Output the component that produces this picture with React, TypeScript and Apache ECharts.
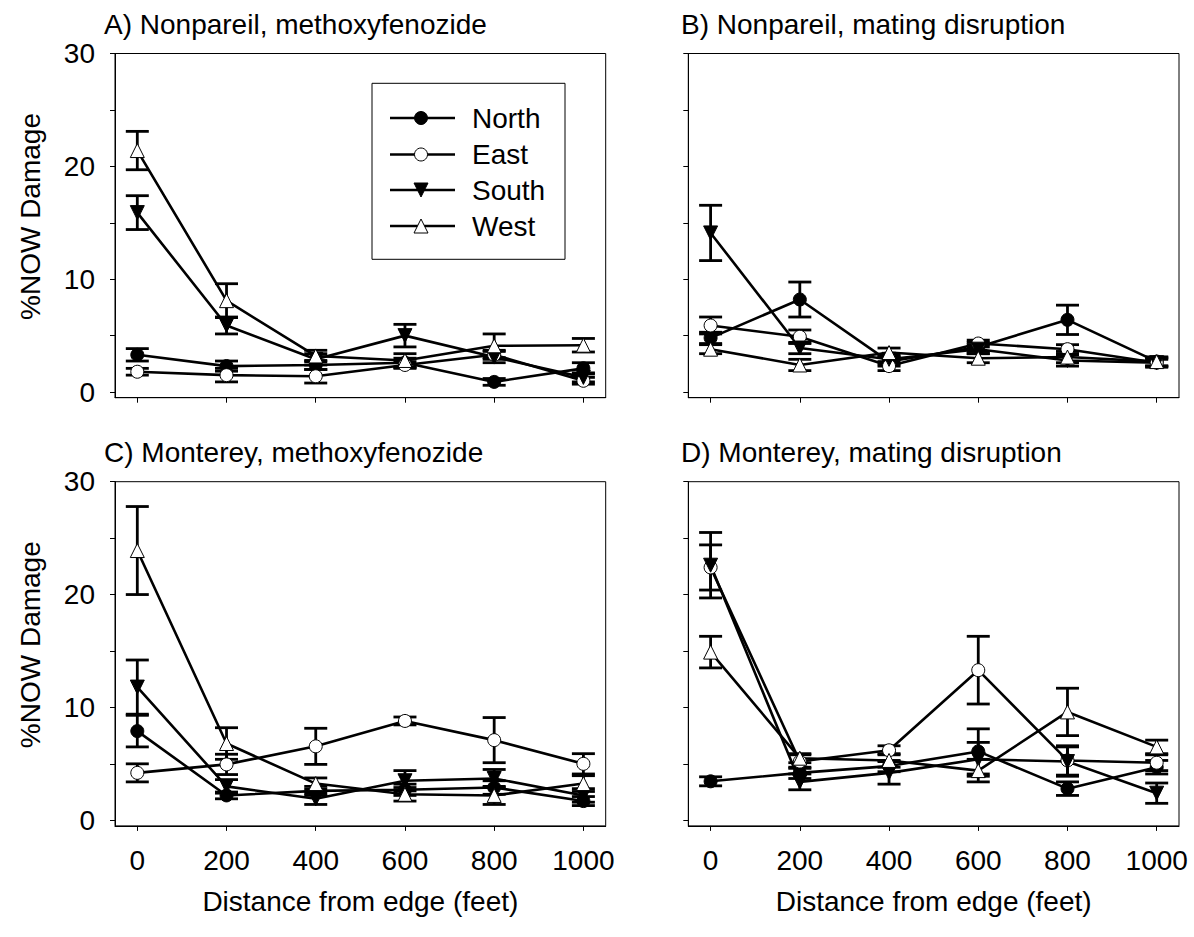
import React, { useEffect, useRef } from "react";
import * as echarts from "echarts";

const FONT = '"Liberation Sans", Arial, Helvetica, sans-serif';

// ---- data ----
const distances = [0, 200, 400, 600, 800, 1000];
const yLabelValues = [0, 10, 20, 30];
const yTickValues = [0, 5, 10, 15, 20, 25, 30];
const directions = ["North", "East", "South", "West"];
const panelTitles = [
  "A) Nonpareil, methoxyfenozide",
  "B) Nonpareil, mating disruption",
  "C) Monterey, methoxyfenozide",
  "D) Monterey, mating disruption",
];
const yAxisTitle = "%NOW Damage";
const xAxisTitle = "Distance from edge (feet)";

// Panel A
const aNorth = [3.3, 2.3, 2.4, 2.6, 0.9, 2.1];
const aNorthSE = [0.55, 0.45, 0.4, 0.4, 0.3, 0.5];
const aEast = [1.8, 1.5, 1.4, 2.4, 3.3, 1.0];
const aEastSE = [0.3, 0.6, 0.6, 0.3, 0.4, 0.3];
const aSouth = [15.9, 5.9, 2.9, 5.0, 3.1, 1.3];
const aSouthSE = [1.5, 0.75, 0.5, 1.0, 0.5, 0.4];
const aWest = [21.4, 8.1, 3.2, 2.8, 4.1, 4.15];
const aWestSE = [1.7, 1.5, 0.5, 0.6, 1.05, 0.6];

// Panel B
const bNorth = [4.8, 8.2, 2.7, 4.0, 6.4, 2.7];
const bNorthSE = [0.5, 1.55, 0.4, 0.4, 1.3, 0.4];
const bEast = [5.9, 4.9, 2.3, 4.3, 3.8, 2.6];
const bEastSE = [0.75, 0.6, 0.4, 0.3, 0.4, 0.3];
const bSouth = [14.1, 3.9, 2.9, 3.8, 2.8, 2.6];
const bSouthSE = [2.45, 0.5, 0.4, 0.4, 0.5, 0.4];
const bWest = [3.8, 2.4, 3.5, 3.0, 3.1, 2.7];
const bWestSE = [0.4, 0.5, 0.4, 0.4, 0.5, 0.4];

// Panel C
const cNorth = [7.9, 2.2, 2.6, 2.7, 2.9, 1.7];
const cNorthSE = [1.4, 0.3, 0.4, 0.5, 0.6, 0.4];
const cEast = [4.2, 4.95, 6.55, 8.8, 7.1, 5.0];
const cEastSE = [0.8, 0.9, 1.6, 0.35, 2.0, 0.9];
const cSouth = [11.8, 3.0, 1.9, 3.5, 3.7, 2.2];
const cSouthSE = [2.4, 0.6, 0.5, 0.9, 0.8, 0.6];
const cWest = [23.9, 6.8, 3.25, 2.3, 2.2, 3.25];
const cWestSE = [3.9, 1.4, 0.5, 0.6, 0.8, 0.7];

// Panel D
const dNorth = [3.45, 4.2, 4.8, 6.1, 2.8, 4.7];
const dNorthSE = [0.4, 0.5, 0.5, 2.0, 0.6, 0.6];
const dEast = [22.4, 5.2, 6.2, 13.3, 5.3, 5.1];
const dEastSE = [2.0, 0.6, 0.4, 3.0, 1.3, 0.7];
const dSouth = [22.6, 3.4, 4.2, 5.4, 5.2, 2.4];
const dSouthSE = [2.9, 0.7, 1.0, 1.5, 1.3, 0.9];
const dWest = [14.9, 5.5, 5.3, 4.4, 9.6, 6.5];
const dWestSE = [1.4, 0.4, 0.6, 1.0, 2.1, 0.6];

const panelMeans = [
  [aNorth, aEast, aSouth, aWest],
  [bNorth, bEast, bSouth, bWest],
  [cNorth, cEast, cSouth, cWest],
  [dNorth, dEast, dSouth, dWest],
];
const panelSEs = [
  [aNorthSE, aEastSE, aSouthSE, aWestSE],
  [bNorthSE, bEastSE, bSouthSE, bWestSE],
  [cNorthSE, cEastSE, cSouthSE, cWestSE],
  [dNorthSE, dEastSE, dSouthSE, dWestSE],
];

// ---- styles / layout ----
const GRID_W = 490.7;
const GRID_H = 344.2;
const gridPos = [
  { left: 115, top: 53.5 },
  { left: 688.3, top: 53.5 },
  { left: 115, top: 481.7 },
  { left: 688.3, top: 481.7 },
];
const markerStyles = [
  { symbol: "circle", fill: "#000", rotate: 0, size: 13 },
  { symbol: "circle", fill: "#fff", rotate: 0, size: 13 },
  { symbol: "triangle", fill: "#000", rotate: 180, size: 14 },
  { symbol: "triangle", fill: "#fff", rotate: 0, size: 14 },
];

function errorRender(params: any, api: any) {
  const x = api.value(0);
  const lo = api.coord([x, api.value(1)]);
  const hi = api.coord([x, api.value(2)]);
  const hw = 11.5;
  const st = { stroke: "#000", lineWidth: 2.8 };
  return {
    type: "group",
    children: [
      { type: "line", shape: { x1: lo[0], y1: lo[1], x2: hi[0], y2: hi[1] }, style: st },
      { type: "line", shape: { x1: hi[0] - hw, y1: hi[1], x2: hi[0] + hw, y2: hi[1] }, style: st },
      { type: "line", shape: { x1: lo[0] - hw, y1: lo[1], x2: lo[0] + hw, y2: lo[1] }, style: st },
    ],
  };
}

function buildOption() {
  const grids = gridPos.map((g) => ({
    left: g.left,
    top: g.top,
    width: GRID_W,
    height: GRID_H,
    show: true,
    borderColor: "#000",
    borderWidth: 1,
    backgroundColor: "transparent",
  }));

  const xAxes = gridPos.map((_, i) => ({
    type: "value",
    gridIndex: i,
    min: -50,
    max: 1050,
    splitLine: { show: false },
    axisLine: { show: true, onZero: false, lineStyle: { color: "#000", width: 1 } },
    axisTick: { show: true, inside: false, length: 5, customValues: distances, lineStyle: { color: "#000", width: 1 } },
    axisLabel: {
      show: i >= 2,
      customValues: distances,
      formatter: (v: number) => String(v),
      fontSize: 28,
      fontFamily: FONT,
      color: "#000",
      margin: 21,
    },
    name: i >= 2 ? xAxisTitle : "",
    nameLocation: "middle",
    nameGap: 62,
    nameTextStyle: { fontSize: 28, fontFamily: FONT, color: "#000" },
  }));

  const yAxes = gridPos.map((_, i) => ({
    type: "value",
    gridIndex: i,
    min: -0.5,
    max: 30,
    splitLine: { show: false },
    axisLine: { show: true, onZero: false, lineStyle: { color: "#000", width: 1 } },
    axisTick: { show: true, inside: false, length: 5, customValues: yTickValues, lineStyle: { color: "#000", width: 1 } },
    axisLabel: {
      show: i % 2 === 0,
      customValues: yLabelValues,
      formatter: (v: number) => String(v),
      fontSize: 28,
      fontFamily: FONT,
      color: "#000",
      margin: 20,
    },
  }));

  const series: any[] = [];
  panelMeans.forEach((means, p) => {
    means.forEach((vals, d) => {
      const ses = panelSEs[p][d];
      series.push({
        type: "custom",
        name: directions[d] + " SE",
        xAxisIndex: p,
        yAxisIndex: p,
        renderItem: errorRender,
        encode: { x: 0, y: [1, 2] },
        data: distances.map((x, k) => [x, vals[k] - ses[k], vals[k] + ses[k]]),
        z: 2,
        silent: true,
      });
    });
    means.forEach((vals, d) => {
      const m = markerStyles[d];
      series.push({
        type: "line",
        name: directions[d],
        xAxisIndex: p,
        yAxisIndex: p,
        data: distances.map((x, k) => [x, vals[k]]),
        symbol: m.symbol,
        symbolSize: m.size,
        symbolRotate: m.rotate,
        showAllSymbol: true,
        lineStyle: { color: "#000", width: 2.6 },
        itemStyle: { color: m.fill, borderColor: "#000", borderWidth: 1 },
        z: 3,
        silent: true,
      });
    });
  });

  // legend (drawn as graphic inside panel A)
  const legX = 372;
  const legY = 83.3;
  const legW = 193;
  const legH = 176;
  const rowY = [118, 154.5, 190, 226];
  const lx1 = 390;
  const lx2 = 455;
  const mx = 421;
  const legendChildren: any[] = [
    { type: "rect", shape: { x: legX, y: legY, width: legW, height: legH }, style: { fill: "#fff", stroke: "#000", lineWidth: 1 } },
  ];
  directions.forEach((name, d) => {
    const y = rowY[d];
    legendChildren.push({ type: "line", shape: { x1: lx1, y1: y, x2: lx2, y2: y }, style: { stroke: "#000", lineWidth: 2.6 } });
    const m = markerStyles[d];
    if (m.symbol === "circle") {
      legendChildren.push({ type: "circle", shape: { cx: mx, cy: y, r: 6.5 }, style: { fill: m.fill, stroke: "#000", lineWidth: 1 } });
    } else if (m.rotate === 180) {
      legendChildren.push({ type: "polygon", shape: { points: [[mx - 7, y - 7], [mx + 7, y - 7], [mx, y + 7]] }, style: { fill: m.fill, stroke: "#000", lineWidth: 1 } });
    } else {
      legendChildren.push({ type: "polygon", shape: { points: [[mx - 7, y + 7], [mx + 7, y + 7], [mx, y - 7]] }, style: { fill: m.fill, stroke: "#000", lineWidth: 1 } });
    }
    legendChildren.push({
      type: "text",
      x: 472,
      y: y,
      style: { text: name, font: `28px ${FONT}`, fill: "#000", textAlign: "left", textVerticalAlign: "middle" },
    });
  });

  const titleX = [104, 681, 104, 681];
  const titleY = [24, 24, 452, 452];
  const graphics: any[] = [
    { type: "group", z: 10, children: legendChildren },
    ...panelTitles.map((t, i) => ({
      type: "text",
      x: titleX[i],
      y: titleY[i],
      z: 10,
      style: { text: t, font: `28px ${FONT}`, fill: "#000", textAlign: "left", textVerticalAlign: "middle" },
    })),
    ...[0, 2].map((i) => ({
      type: "text",
      x: 30,
      y: gridPos[i].top + 163,
      rotation: Math.PI / 2,
      z: 10,
      style: { text: yAxisTitle, font: `28px ${FONT}`, fill: "#000", textAlign: "center", textVerticalAlign: "middle" },
    })),
  ];

  return {
    animation: false,
    backgroundColor: "#fff",
    textStyle: { fontFamily: FONT },
    grid: grids,
    xAxis: xAxes,
    yAxis: yAxes,
    series,
    graphic: graphics,
  };
}

export default function App() {
  const ref = useRef<HTMLDivElement>(null);
  useEffect(() => {
    if (!ref.current) return;
    const chart = echarts.init(ref.current, null, { renderer: "svg" });
    chart.setOption(buildOption() as any);
    return () => chart.dispose();
  }, []);
  return (
    <div
      ref={ref}
      style={{ position: "absolute", left: 0, top: 0, width: 1194, height: 937, background: "#fff" }}
    />
  );
}
